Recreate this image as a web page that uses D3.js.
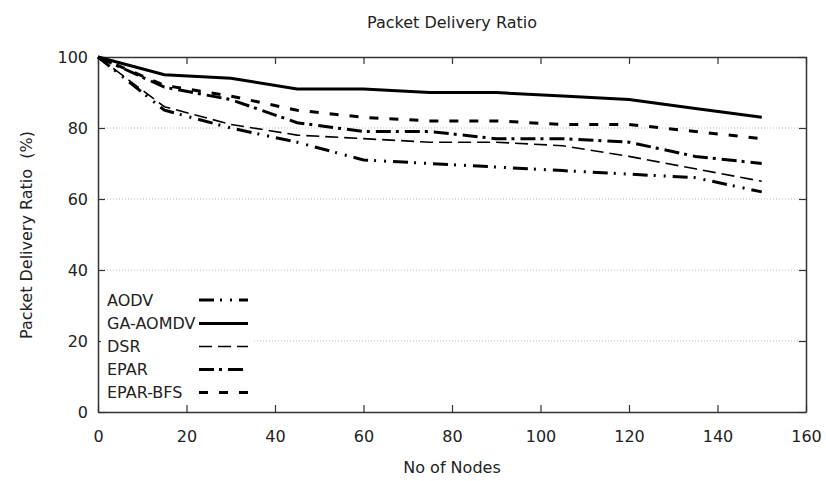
<!DOCTYPE html>
<html>
<head>
<meta charset="utf-8">
<script src="https://cdn.jsdelivr.net/npm/d3@7"></script>
<style>
  body { margin: 0; background: #fff; }
  text { font-family: "DejaVu Sans", sans-serif; fill: #222; }
</style>
</head>
<body>
<div class="chart"></div>
<script>
// No of Nodes on x, delivery ratio (%) on y
const nodes = [0, 15, 30, 45, 60, 75, 90, 105, 120, 135, 150];
const aodv     = [100, 85, 80, 76, 71, 70, 69, 68, 67, 66, 62];
const gaAomdv  = [100, 95, 94, 91, 91, 90, 90, 89, 88, 85.5, 83];
const dsr      = [100, 86, 81, 78, 77, 76, 76, 75, 72, 68.5, 65];
const epar     = [100, 91.5, 88, 81.5, 79, 79, 77, 77, 76, 72, 70];
const eparBfs  = [100, 92, 89, 85, 83, 82, 82, 81, 81, 79, 77];

const seriesNames = ["AODV", "GA-AOMDV", "DSR", "EPAR", "EPAR-BFS"];
const xTicks = [0, 20, 40, 60, 80, 100, 120, 140, 160];
const yTicks = [0, 20, 40, 60, 80, 100];

const svgWidth = 826, svgHeight = 481;
const margin = { top: 57, right: 20, bottom: 69, left: 98 };
const width = svgWidth - margin.left - margin.right;
const height = svgHeight - margin.top - margin.bottom;

// line look per series (gnuplot-ish dash types)
const styles = {
  "AODV":     { dash: "15,6,2,8,2,7", w: 3 },
  "GA-AOMDV": { dash: null,           w: 3 },
  "DSR":      { dash: "13,6",         w: 1.6 },
  "EPAR":     { dash: "15,5,3,6",     w: 3 },
  "EPAR-BFS": { dash: "9,11",         w: 3 }
};

const series = [aodv, gaAomdv, dsr, epar, eparBfs].map((vals, i) => ({
  name: seriesNames[i],
  points: vals.map((v, j) => ({ x: nodes[j], y: v }))
}));

const svg = d3.select(".chart").append("svg")
  .attr("width", svgWidth)
  .attr("height", svgHeight);

const chartGroup = svg.append("g")
  .attr("transform", `translate(${margin.left}, ${margin.top})`);

const xLinearScale = d3.scaleLinear().domain([0, 160]).range([0, width]);
const yLinearScale = d3.scaleLinear().domain([0, 100]).range([height, 0]);

// dotted grid lines
chartGroup.append("g")
  .selectAll("line")
  .data(yTicks.filter(t => t > 0 && t < 100))
  .enter()
  .append("line")
  .attr("x1", 0).attr("x2", width)
  .attr("y1", d => yLinearScale(d)).attr("y2", d => yLinearScale(d))
  .attr("stroke", "#bbb")
  .attr("stroke-width", 1)
  .attr("stroke-dasharray", "1,2");

// axes with inward ticks on all four sides
const tickLen = 7;
const bottomAxis = d3.axisBottom(xLinearScale).tickValues(xTicks).tickSizeInner(-tickLen).tickSizeOuter(0).tickPadding(19);
const leftAxis = d3.axisLeft(yLinearScale).tickValues(yTicks).tickSizeInner(-tickLen).tickSizeOuter(0).tickPadding(10);
const topAxis = d3.axisTop(xLinearScale).tickValues(xTicks).tickSizeInner(-tickLen).tickSizeOuter(0).tickFormat("");
const rightAxis = d3.axisRight(yLinearScale).tickValues(yTicks).tickSizeInner(-tickLen).tickSizeOuter(0).tickFormat("");

const xAxis = chartGroup.append("g").attr("transform", `translate(0, ${height})`).call(bottomAxis);
const yAxis = chartGroup.append("g").call(leftAxis);
chartGroup.append("g").call(topAxis);
chartGroup.append("g").attr("transform", `translate(${width}, 0)`).call(rightAxis);

chartGroup.selectAll(".domain").attr("stroke", "#333").attr("stroke-width", 1.5);
chartGroup.selectAll(".tick line").attr("stroke", "#333").attr("stroke-width", 1.2);
chartGroup.selectAll(".tick text").attr("font-size", 16).attr("fill", "#222")
  .attr("font-family", "DejaVu Sans, sans-serif");

// legend box (white, covers grid)
const legendRows = [300, 323.5, 346.5, 369.5, 392.5];
const legend = svg.append("g");
legend.append("rect")
  .attr("x", 101).attr("y", 287).attr("width", 152).attr("height", 118)
  .attr("fill", "#fff");

const line = d3.line()
  .x(d => xLinearScale(d.x))
  .y(d => yLinearScale(d.y));

chartGroup.selectAll(".series")
  .data(series)
  .enter()
  .append("path")
  .attr("class", "series")
  .attr("d", d => line(d.points))
  .attr("fill", "none")
  .attr("stroke", "#000")
  .attr("stroke-width", d => styles[d.name].w)
  .attr("stroke-dasharray", d => styles[d.name].dash);

series.forEach((s, i) => {
  legend.append("text")
    .attr("x", 107)
    .attr("y", legendRows[i])
    .attr("dy", "0.35em")
    .attr("font-size", 16)
    .text(s.name);
  legend.append("line")
    .attr("x1", 199).attr("x2", 248)
    .attr("y1", legendRows[i]).attr("y2", legendRows[i])
    .attr("stroke", "#000")
    .attr("stroke-width", styles[s.name].w)
    .attr("stroke-dasharray", styles[s.name].dash);
});

// titles
svg.append("text")
  .attr("x", 452).attr("y", 22).attr("dy", "0.35em")
  .attr("text-anchor", "middle").attr("font-size", 16)
  .text("Packet Delivery Ratio");

svg.append("text")
  .attr("x", 452).attr("y", 467).attr("dy", "0.35em")
  .attr("text-anchor", "middle").attr("font-size", 16)
  .text("No of Nodes");

svg.append("text")
  .attr("transform", "translate(26, 235) rotate(-90)")
  .attr("dy", "0.35em")
  .attr("text-anchor", "middle").attr("font-size", 16)
  .attr("xml:space", "preserve")
  .style("white-space", "pre")
  .text("Packet Delivery Ratio  (%)");
</script>
</body>
</html>
